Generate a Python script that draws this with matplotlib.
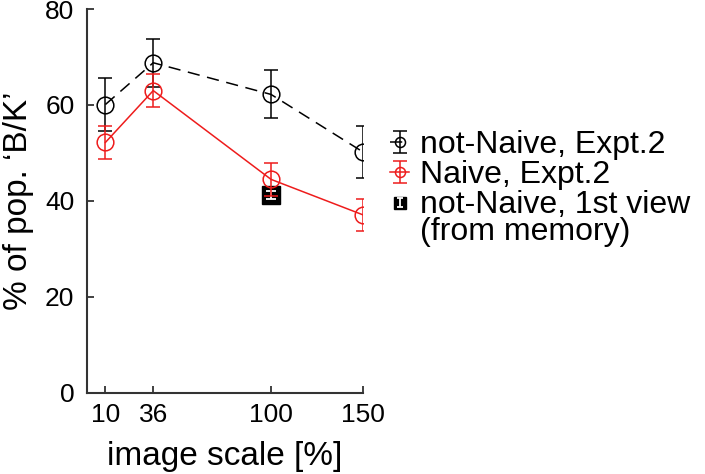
import matplotlib.pyplot as plt
from matplotlib.legend_handler import HandlerErrorbar
from matplotlib.lines import Line2D

plt.rcParams['font.family'] = ['Liberation Sans', 'DejaVu Sans']

scale = [10, 36, 100, 150]
not_naive = [60.1, 68.8, 62.2, 50.2]
not_naive_err = [5.6, 5.0, 5.0, 5.5]
naive = [52.2, 63.0, 44.5, 37.1]
naive_err = [3.4, 3.5, 3.5, 3.4]
memory_x = [100]
memory_y = [41.3]
memory_err = [0.8]

xticks = [10, 36, 100, 150]
yticks = [0, 20, 40, 60, 80]
labels = ['not-Naive, Expt.2', 'Naive, Expt.2', 'not-Naive, 1st view\n(from memory)']


class HandlerBarsOnTop(HandlerErrorbar):
    # marker drawn first so the white bars stay visible on it,
    # and the handle is lifted to the first text line
    def create_artists(self, legend, orig_handle, xdescent, ydescent,
                       width, height, fontsize, trans):
        arts = super().create_artists(legend, orig_handle, xdescent, ydescent - 23,
                                      width, height, fontsize, trans)
        for a in arts:
            if isinstance(a, Line2D):
                if a.get_marker() == '_':
                    a.set_markersize(4.5)
                elif a.get_marker() == 's':
                    a.set_markersize(9)
        return arts[-2:] + arts[:-2]


def main():
    fig = plt.figure(figsize=(7.05, 4.74), dpi=100)
    ax = fig.add_axes([0.1234, 0.171, 0.3916, 0.81])

    h1 = ax.errorbar(scale, not_naive, yerr=not_naive_err, fmt='o', ls=(0, (8, 5)),
                     color='black', mfc='none', ms=12, mew=1.1, lw=1.1,
                     elinewidth=1.1, capsize=5, capthick=1.1)
    h3 = ax.errorbar(memory_x, memory_y, yerr=memory_err, fmt='s', color='black',
                     ms=13, ecolor='white', elinewidth=1.3, capsize=3.5, capthick=1.3)
    for a in list(h3[1]) + list(h3[2]):
        a.set_zorder(3)
    h2 = ax.errorbar(scale, naive, yerr=naive_err, fmt='o-', color='#ee1c1c',
                     mfc='none', ms=12, mew=1.1, lw=1.1, elinewidth=1.1,
                     capsize=5, capthick=1.1, zorder=4)

    ax.set_xlim(0, 150)
    ax.set_ylim(0, 80)
    ax.set_xticks(xticks)
    ax.set_yticks(yticks)
    ax.tick_params(direction='in', length=5, width=1.3, color='#333333',
                   labelsize=19)
    ax.tick_params(axis='x', pad=7)
    ax.tick_params(axis='y', pad=9)
    for s in ['top', 'right']:
        ax.spines[s].set_visible(False)
    for s in ['left', 'bottom']:
        ax.spines[s].set_linewidth(1.5)
        ax.spines[s].set_color('#333333')

    ax.set_xlabel('image scale [%]', fontsize=24, labelpad=10)
    ax.set_ylabel('% of pop. \u2018B/K\u2019', fontsize=24, labelpad=8)

    leg = fig.legend([h1, h2, h3], labels,
                     loc='upper left', bbox_to_anchor=(0.535, 0.752), frameon=False,
                     fontsize=23, handlelength=0.6, handletextpad=0.35, markerscale=0.6,
                     labelspacing=0.0, borderaxespad=0,
                     handler_map={h1: HandlerErrorbar(yerr_size=0.35),
                                  h2: HandlerErrorbar(yerr_size=0.35),
                                  h3: HandlerBarsOnTop(yerr_size=0.14)})
    leg.get_texts()[2].set_linespacing(0.85)

    fig.savefig('out.png', dpi=100)


if __name__ == '__main__':
    main()
